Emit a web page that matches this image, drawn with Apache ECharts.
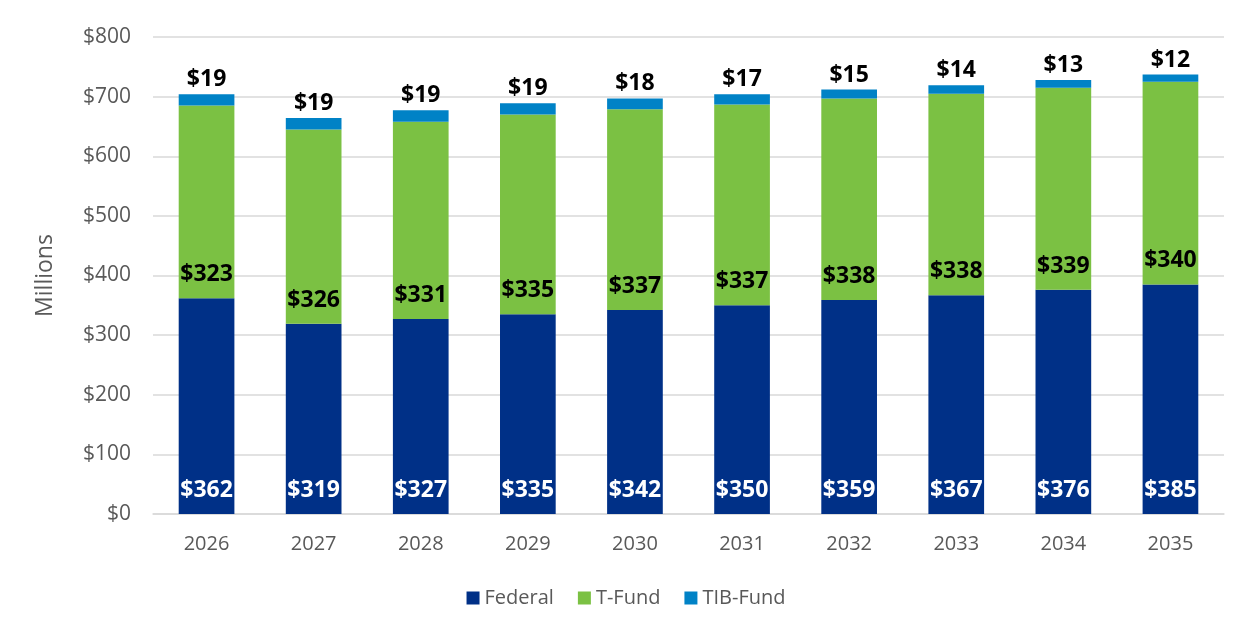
<!DOCTYPE html>
<html>
<head>
<meta charset="utf-8">
<script src="https://cdn.jsdelivr.net/npm/echarts@6/dist/echarts.min.js"></script>
<style>
  html, body { margin: 0; padding: 0; background: #fff; }
  #main { width: 1252px; height: 630px; }
</style>
</head>
<body>
<div id="main"></div>
<script>
var years = ['2026', '2027', '2028', '2029', '2030', '2031', '2032', '2033', '2034', '2035']
var federal = [362, 319, 327, 335, 342, 350, 359, 367, 376, 385]
var tFund = [323, 326, 331, 335, 337, 337, 338, 338, 339, 340]
var tibFund = [19, 19, 19, 19, 18, 17, 15, 14, 13, 12]

var font = '"Open Sans", "Noto Sans", sans-serif'
var chart = echarts.init(document.getElementById('main'))

function dollars(p) { return '$' + p.value }

chart.setOption({
    animation: false,
    textStyle: { fontFamily: font },
    grid: { left: 153, right: 28, top: 37, bottom: 116 },
    legend: {
        bottom: 17,
        left: 'center',
        itemWidth: 13,
        itemHeight: 13,
        itemGap: 24,
        icon: 'rect',
        textStyle: { fontSize: 20, color: '#595959', fontFamily: font },
        data: ['Federal', 'T-Fund', 'TIB-Fund']
    },
    xAxis: {
        type: 'category',
        data: years,
        axisTick: { show: false },
        axisLine: { lineStyle: { color: '#d9d9d9', width: 1.5 } },
        axisLabel: { fontSize: 20, color: '#595959', margin: 20 }
    },
    yAxis: {
        type: 'value',
        min: 0,
        max: 800,
        interval: 100,
        name: 'Millions',
        nameLocation: 'middle',
        nameGap: 96,
        nameTextStyle: { fontSize: 23, color: '#595959' },
        axisLabel: { fontSize: 21, color: '#595959', margin: 22, formatter: '${value}' },
        splitLine: { lineStyle: { color: '#d9d9d9', width: 1.5 } }
    },
    series: [
        {
            name: 'Federal',
            type: 'bar',
            stack: 'total',
            barWidth: '52%',
            data: federal,
            itemStyle: { color: '#003087' },
            label: {
                show: true, position: 'insideBottom', distance: 12,
                formatter: dollars, color: '#fff', fontWeight: 'bold', fontSize: 23
            }
        },
        {
            name: 'T-Fund',
            type: 'bar',
            stack: 'total',
            data: tFund,
            itemStyle: { color: '#7bc143' },
            label: {
                show: true, position: 'insideBottom', distance: 12,
                formatter: dollars, color: '#000', fontWeight: 'bold', fontSize: 23
            }
        },
        {
            name: 'TIB-Fund',
            type: 'bar',
            stack: 'total',
            data: tibFund,
            itemStyle: { color: '#0082c6' },
            label: {
                show: true, position: 'top', distance: 3,
                formatter: dollars, color: '#000', fontWeight: 'bold', fontSize: 23
            }
        }
    ]
})
</script>
</body>
</html>
